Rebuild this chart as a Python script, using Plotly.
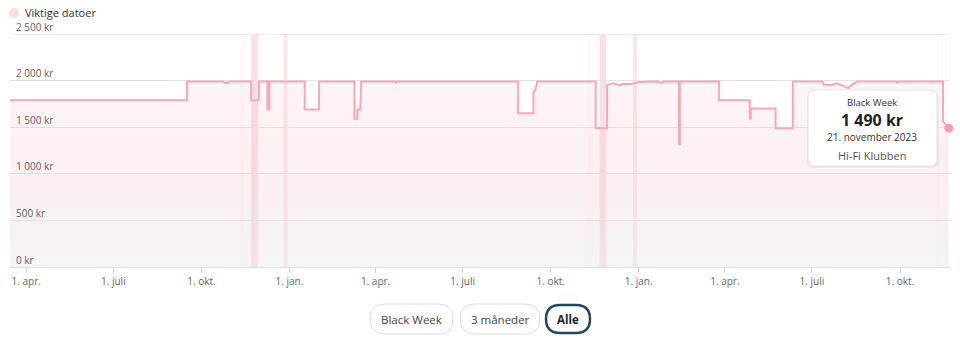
import plotly.graph_objects as go

# ---------------- data ----------------
price_dates = [
    "2021-03-15", "2021-09-16", "2021-09-16", "2021-10-24", "2021-10-25", "2021-10-29", "2021-10-30",
    "2021-11-22", "2021-11-22", "2021-11-30", "2021-11-30",
    "2021-12-09", "2021-12-09", "2021-12-11", "2021-12-11",
    "2022-01-17", "2022-01-17", "2022-02-01", "2022-02-01",
    "2022-03-10", "2022-03-10", "2022-03-13", "2022-03-13", "2022-03-16", "2022-03-17",
    "2022-04-21", "2022-04-22", "2022-04-24",
    "2022-08-28", "2022-08-28", "2022-09-13", "2022-09-13", "2022-09-15", "2022-09-17",
    "2022-11-17", "2022-11-17", "2022-11-29", "2022-11-29",
    "2022-12-05", "2022-12-12", "2022-12-16", "2022-12-22", "2022-12-28", "2023-01-02",
    "2023-01-20", "2023-01-24", "2023-01-27",
    "2023-02-12", "2023-02-12", "2023-02-13", "2023-02-13",
    "2023-03-26", "2023-03-26", "2023-04-27", "2023-04-27", "2023-04-28", "2023-04-28",
    "2023-05-24", "2023-05-24", "2023-06-11", "2023-06-11",
    "2023-07-12", "2023-07-13", "2023-07-20", "2023-07-27", "2023-08-03", "2023-08-08", "2023-08-12", "2023-08-18",
    "2023-09-27", "2023-09-28", "2023-09-30",
    "2023-11-15", "2023-11-15", "2023-11-21",
]
price_values = [
    1790, 1790, 1990, 1990, 1975, 1975, 1990,
    1990, 1790, 1790, 1990,
    1990, 1690, 1690, 1990,
    1990, 1690, 1690, 1990,
    1990, 1590, 1590, 1690, 1690, 1990,
    1990, 1975, 1990,
    1990, 1650, 1650, 1880, 1900, 1990,
    1990, 1490, 1490, 1955,
    1970, 1950, 1965, 1960, 1975, 1985,
    1990, 1975, 1990,
    1990, 1320, 1320, 1990,
    1990, 1790, 1790, 1590, 1590, 1700,
    1700, 1490, 1490, 1990,
    1990, 1960, 1950, 1970, 1940, 1920, 1960, 1990,
    1990, 1978, 1990,
    1990, 1560, 1490,
]

tick_dates = ["2021-04-01", "2021-07-01", "2021-10-01", "2022-01-01", "2022-04-01", "2022-07-01",
              "2022-10-01", "2023-01-01", "2023-04-01", "2023-07-01", "2023-10-01"]
tick_labels = ["1. apr.", "1. juli", "1. okt.", "1. jan.", "1. apr.", "1. juli",
               "1. okt.", "1. jan.", "1. apr.", "1. juli", "1. okt."]

y_ticks = [0, 500, 1000, 1500, 2000, 2500]
y_labels = ["0 kr", "500 kr", "1 000 kr", "1 500 kr", "2 000 kr", "2 500 kr"]

# important dates (bands)
band_starts = ["2021-11-11", "2021-11-22", "2021-12-26", "2022-11-09", "2022-11-21", "2022-12-26",
               "2023-11-09", "2023-11-17"]
band_ends = ["2021-11-14", "2021-11-29", "2021-12-30", "2022-11-12", "2022-11-28", "2022-12-30",
             "2023-11-11", "2023-11-19"]
band_kind = ["faint", "strong", "medium", "faint", "strong", "medium", "faint", "faint"]

tooltip_lines = ["Black Week", "1 490 kr", "21. november 2023", "Hi-Fi Klubben"]
legend_label = "Viktige datoer"
button_labels = ["Black Week", "3 måneder", "Alle"]

# ---------------- figure ----------------
W, H = 960, 350
ML, MR, MT, MB = 10, 10, 34, 83
PW = W - ML - MR
PH = H - MT - MB

def px2paper(x, y):
    return (x - ML) / PW, (H - MB - y) / PH

def rounded_path(x0, y0, x1, y1, r):
    def p(x, y):
        a, b = px2paper(x, y)
        return f"{a:.5f},{b:.5f}"
    return (f"M {p(x0 + r, y0)} L {p(x1 - r, y0)} Q {p(x1, y0)} {p(x1, y0 + r)} "
            f"L {p(x1, y1 - r)} Q {p(x1, y1)} {p(x1 - r, y1)} "
            f"L {p(x0 + r, y1)} Q {p(x0, y1)} {p(x0, y1 - r)} "
            f"L {p(x0, y0 + r)} Q {p(x0, y0)} {p(x0 + r, y0)} Z")

FONT = "Open Sans"
LINE = "#F4A8BA"

fig = go.Figure()

fig.add_trace(go.Scatter(
    x=price_dates, y=price_values, mode="lines",
    line=dict(color=LINE, width=2),
    fill="tozeroy",
    fillgradient=dict(type="vertical",
                      colorscale=[[0, "rgba(232,232,236,0.45)"], [1, "rgba(244,168,186,0.11)"]],
                      start=0, stop=2000),
    hoverinfo="skip", showlegend=False,
))
fig.add_trace(go.Scatter(
    x=[price_dates[-1]], y=[price_values[-1]], mode="markers",
    marker=dict(size=9, color="#F29FB3"), cliponaxis=False,
    hoverinfo="skip", showlegend=False,
))

shapes = []
band_alpha = {"faint": 0.08, "medium": 0.26, "strong": 0.34}
for s, e, k in zip(band_starts, band_ends, band_kind):
    shapes.append(dict(type="rect", xref="x", yref="paper", x0=s, x1=e, y0=0, y1=1,
                       fillcolor=f"rgba(244,160,180,{band_alpha[k]})", line=dict(width=0),
                       layer="below"))

# top gridline (2500) at the plot edge
shapes.append(dict(type="line", xref="paper", yref="y", x0=0, x1=1, y0=y_ticks[-1], y1=y_ticks[-1],
                   line=dict(color="#E2E2E4", width=1), layer="below"))

# legend dot
shapes.append(dict(type="circle", xref="paper", yref="paper",
                   x0=(14 - 5 - ML) / PW, x1=(14 + 5 - ML) / PW,
                   y0=(H - MB - 18) / PH, y1=(H - MB - 8) / PH,
                   fillcolor="#FADCE2", line=dict(width=0)))

# tooltip box
shapes.append(dict(type="path", xref="paper", yref="paper",
                   path=rounded_path(807, 92, 939, 168, 7),
                   fillcolor="rgba(0,0,0,0.04)", line=dict(width=0)))
shapes.append(dict(type="path", xref="paper", yref="paper",
                   path=rounded_path(808, 90, 937, 166, 7),
                   fillcolor="white", line=dict(color="#E4E4E6", width=1)))

# buttons
btn_boxes = [(370, 304, 453, 334), (460, 304, 540, 334), (546, 305, 590, 333)]
for i, (x0, y0, x1, y1) in enumerate(btn_boxes):
    active = i == 2
    shapes.append(dict(type="path", xref="paper", yref="paper",
                       path=rounded_path(x0, y0, x1, y1, (y1 - y0) / 2),
                       fillcolor="white",
                       line=dict(color="#22465E" if active else "#DCDCDF", width=2.5 if active else 1)))

annotations = []
ax, ay = px2paper(23, 12.5)
annotations.append(dict(xref="paper", yref="paper", x=ax, y=ay, text=legend_label, showarrow=False,
                        xanchor="left", yanchor="middle", font=dict(family=FONT, size=11, color="#333")))

tip_y = [102, 120, 137, 155]
tip_font = [dict(size=9.5, color="#333"), dict(size=16, color="#222"),
            dict(size=10, color="#333"), dict(size=11, color="#555")]
for t, yy, f in zip(tooltip_lines, tip_y, tip_font):
    tx, ty = px2paper(872, yy)
    txt = f"<b>{t}</b>" if t == tooltip_lines[1] else t
    annotations.append(dict(xref="paper", yref="paper", x=tx, y=ty, text=txt, showarrow=False,
                            xanchor="center", yanchor="middle", font=dict(family=FONT, **f)))

for i, (lab, (x0, y0, x1, y1)) in enumerate(zip(button_labels, btn_boxes)):
    bx, by = px2paper((x0 + x1) / 2, 319)
    txt = f"<b>{lab}</b>" if i == 2 else lab
    annotations.append(dict(xref="paper", yref="paper", x=bx, y=by, text=txt, showarrow=False,
                            xanchor="center", yanchor="middle",
                            font=dict(family=FONT, size=11.5, color="#222" if i == 2 else "#444")))

fig.update_layout(
    width=W, height=H,
    margin=dict(l=ML, r=MR, t=MT, b=MB),
    paper_bgcolor="white", plot_bgcolor="white",
    font=dict(family=FONT, size=10, color="#666"),
    shapes=shapes, annotations=annotations,
    showlegend=False,
    xaxis=dict(
        range=["2021-03-15", "2023-11-22 06:00"],
        tickvals=tick_dates, ticktext=tick_labels,
        showgrid=False, zeroline=False,
        showline=True, linecolor="#DADCE2", linewidth=1,
        ticks="outside", ticklen=5, tickcolor="#D0D2D8",
        tickfont=dict(family=FONT, size=10, color="#666"),
        ticklabeloverflow="allow",
    ),
    yaxis=dict(
        range=[0, 2500], tickvals=y_ticks, ticktext=y_labels,
        showgrid=True, gridcolor="#E2E2E4", gridwidth=1, zeroline=False,
        ticklabelposition="inside top", ticks="",
        tickfont=dict(family=FONT, size=10, color="#5f5f5f"),
        ticklabelstandoff=3,
        ticklabeloverflow="allow",
    ),
)

fig.write_html("out.html")
